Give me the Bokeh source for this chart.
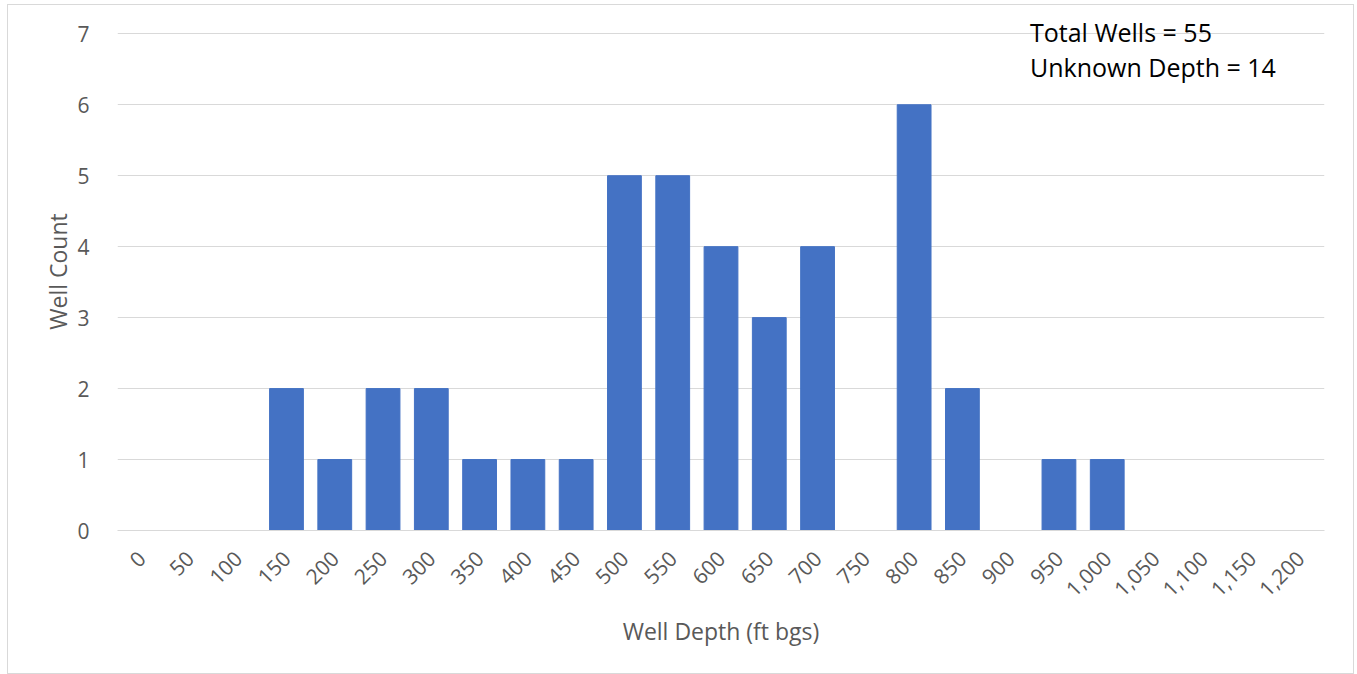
import math
from bokeh.plotting import figure
from bokeh.models import ColumnDataSource, Label, FactorRange, Range1d
from bokeh.embed import file_html
from bokeh.resources import INLINE

depths = ["0", "50", "100", "150", "200", "250", "300", "350", "400", "450", "500",
          "550", "600", "650", "700", "750", "800", "850", "900", "950", "1,000",
          "1,050", "1,100", "1,150", "1,200"]
counts = [0, 0, 0, 2, 1, 2, 2, 1, 1, 1, 5, 5, 4, 3, 4, 0, 6, 2, 0, 1, 1, 0, 0, 0, 0]
note_lines = ["Total Wells = 55", "Unknown Depth = 14"]

FONT = "Open Sans"
TICK_COLOR = "#595959"
GRID = "#D9D9D9"

src = ColumnDataSource(dict(depth=depths, count=counts))

p = figure(width=1347, height=670, x_range=FactorRange(*depths), y_range=Range1d(0, 7.3),
           output_backend="svg", toolbar_location=None)
p.min_border_left = 109
p.min_border_right = 31
p.min_border_top = 7
p.min_border_bottom = 145
p.outline_line_color = None
p.styles = {"border": "1px solid #D9D9D9", "margin-left": "7px", "margin-top": "4px"}

p.vbar(x="depth", top="count", width=0.7, source=src, color="#4472C4")

p.xgrid.grid_line_color = None
p.ygrid.grid_line_color = GRID
p.ygrid.grid_line_width = 1

p.yaxis.axis_line_color = None
p.yaxis.major_tick_line_color = None
p.yaxis.minor_tick_line_color = None
p.yaxis.ticker = [0, 1, 2, 3, 4, 5, 6, 7]
p.yaxis.major_label_text_font = FONT
p.yaxis.major_label_text_font_size = "21px"
p.yaxis.major_label_text_color = TICK_COLOR
p.yaxis.major_label_standoff = 22
p.yaxis.axis_label = "Well Count"
p.yaxis.axis_label_text_font = FONT
p.yaxis.axis_label_text_font_size = "23px"
p.yaxis.axis_label_text_font_style = "normal"
p.yaxis.axis_label_text_color = TICK_COLOR
p.yaxis.axis_label_standoff = 0

p.xaxis.axis_line_color = GRID
p.xaxis.major_tick_line_color = None
p.xaxis.minor_tick_line_color = None
p.xaxis.major_label_orientation = math.pi / 4
p.xaxis.major_label_text_font = FONT
p.xaxis.major_label_text_font_size = "21px"
p.xaxis.major_label_text_color = TICK_COLOR
p.xaxis.major_label_standoff = 18
p.xaxis.axis_label = "Well Depth (ft bgs)"
p.xaxis.axis_label_text_font = FONT
p.xaxis.axis_label_text_font_size = "23px"
p.xaxis.axis_label_text_font_style = "normal"
p.xaxis.axis_label_text_color = TICK_COLOR
p.xaxis.axis_label_standoff = 8

for i, line in enumerate(note_lines):
    p.add_layout(Label(x=18.9, y=7.02 - 0.49 * i, text=line, text_font=FONT,
                       text_font_size="25px", text_color="black",
                       text_baseline="middle", text_align="left"))

open("out.html", "w").write(file_html(p, INLINE))
